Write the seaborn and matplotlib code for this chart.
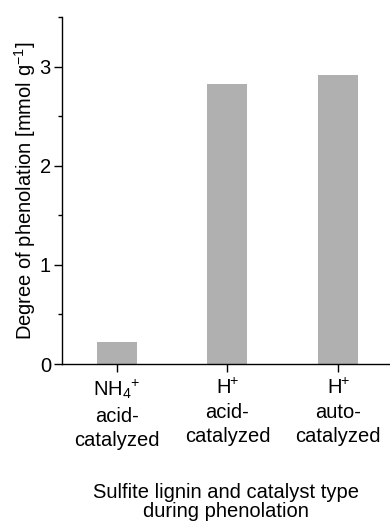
import matplotlib
matplotlib.use("Agg")
import matplotlib.pyplot as plt
from matplotlib.ticker import MultipleLocator
import seaborn as sns
import pandas as pd

categories = ["NH$_4{}^{+}$\nacid-\ncatalyzed", "H$^{\\!\\!+}$\nacid-\ncatalyzed", "H$^{\\!\\!+}$\nauto-\ncatalyzed"]
values = [0.22, 2.82, 2.91]
y_ticks = [0, 1, 2, 3]

sns.set_style("ticks")
plt.rcParams["font.family"] = ["Liberation Sans", "DejaVu Sans"]
plt.rcParams["mathtext.fontset"] = "custom"
plt.rcParams["mathtext.rm"] = "Liberation Sans"
plt.rcParams["mathtext.it"] = "Liberation Sans:italic"
plt.rcParams["mathtext.bf"] = "Liberation Sans:bold"
plt.rcParams["text.color"] = "black"
plt.rcParams["axes.labelcolor"] = "black"
plt.rcParams["xtick.color"] = "black"
plt.rcParams["ytick.color"] = "black"

df = pd.DataFrame({"cat": categories, "val": values})

fig = plt.figure(figsize=(3.9, 5.25), dpi=100)
ax = fig.add_axes([62/390, 1-364/525, 1-62/390, (364-17)/525])
sns.barplot(data=df, x="cat", y="val", color="#b0b0b0", saturation=1,
            width=0.36, ax=ax, edgecolor="none")

ax.set_xlim(-0.495, 2.47)
ax.set_ylim(0, 3.5)
ax.set_yticks(y_ticks)
ax.yaxis.set_minor_locator(MultipleLocator(0.5))
ax.tick_params(axis="both", which="major", direction="out", length=6, width=1.0,
               labelsize=14.5)
ax.tick_params(axis="y", which="minor", direction="out", length=3, width=1.0)
ax.tick_params(axis="y", pad=2)
ax.tick_params(axis="x", pad=4)
for lbl in ax.get_xticklabels():
    lbl.set_linespacing(1.35)
for s in ["top", "right"]:
    ax.spines[s].set_visible(False)
for s in ["left", "bottom"]:
    ax.spines[s].set_linewidth(1.0)
    ax.spines[s].set_color("black")

ax.set_ylabel("Degree of phenolation [mmol g$^{-1}$]", fontsize=14.5)
ax.yaxis.set_label_coords(-0.073, 0.5)
ax.set_xlabel("Sulfite lignin and catalyst type\nduring phenolation", fontsize=14.5,
              linespacing=0.95)
ax.xaxis.set_label_coords(0.5, -0.344)

fig.savefig("out.png", dpi=100)
